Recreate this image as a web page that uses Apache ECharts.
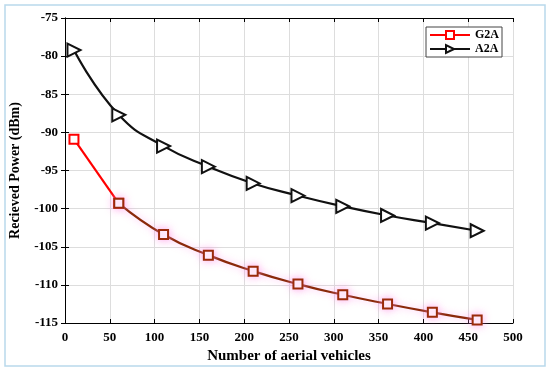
<!DOCTYPE html>
<html><head><meta charset="utf-8">
<script src="https://cdn.jsdelivr.net/npm/echarts@6/dist/echarts.min.js"></script>
<style>html,body{margin:0;padding:0;background:#fff}#c{width:550px;height:371px}</style>
</head><body><div id="c"></div>
<script>
const xValues = [10, 60, 110, 160, 210, 260, 310, 360, 410, 460];
const g2a = [-90.9, -99.3, -103.4, -106.1, -108.2, -109.9, -111.3, -112.5, -113.6, -114.6];
const a2a = [-79.2, -87.7, -91.8, -94.5, -96.7, -98.3, -99.7, -100.9, -101.9, -102.9];
const xTicks = [0, 50, 100, 150, 200, 250, 300, 350, 400, 450, 500];
const yTicks = [-115, -110, -105, -100, -95, -90, -85, -80, -75];

const font = 'Liberation Serif';
const chart = echarts.init(document.getElementById('c'));
const pair = (ys) => xValues.map((x, i) => [x, ys[i]]);
const g2aPts = pair(g2a);
const axisTxt = {fontFamily: font, fontWeight: 'bold', fontSize: 13, color: '#000'};
chart.setOption({
  animation: false,
  graphic: [{type: 'rect', shape: {x: 5, y: 5, width: 540, height: 361},
    style: {fill: 'none', stroke: '#b9d9ec', lineWidth: 1.5}, z: -1}],
  grid: {left: 63, right: 37, top: 18, bottom: 48, show: false},
  legend: {
    right: 48, top: 27, orient: 'vertical', itemGap: 2, itemWidth: 40, itemHeight: 10,
    backgroundColor: '#fff', borderColor: '#444', borderWidth: 1, padding: [2, 3],
    textStyle: {fontFamily: font, fontWeight: 'bold', fontSize: 12, color: '#000'},
    data: ['G2A', 'A2A']
  },
  xAxis: [{
    type: 'value', min: 0, max: 500, interval: 50,
    name: 'Number of aerial vehicles', nameLocation: 'middle', nameGap: 24,
    nameTextStyle: {fontFamily: font, fontWeight: 'bold', fontSize: 15, color: '#000'},
    axisLine: {lineStyle: {color: '#000', width: 1}},
    axisTick: {inside: true, length: 4, lineStyle: {color: '#000'}},
    axisLabel: Object.assign({margin: 8}, axisTxt),
    splitLine: {show: true, lineStyle: {color: '#ddd'}}
  }, {
    type: 'value', min: 0, max: 500, interval: 50, position: 'top',
    axisLine: {show: true, lineStyle: {color: '#000'}},
    axisTick: {inside: true, length: 4, lineStyle: {color: '#000'}},
    axisLabel: {show: false}, splitLine: {show: false}
  }],
  yAxis: [{
    type: 'value', min: -115, max: -75, interval: 5,
    name: 'Recieved Power (dBm)', nameLocation: 'middle', nameGap: 43,
    nameTextStyle: {fontFamily: font, fontWeight: 'bold', fontSize: 14, color: '#000'},
    axisLine: {show: true, lineStyle: {color: '#000'}},
    axisTick: {show: true, inside: true, length: 4, lineStyle: {color: '#000'}},
    axisLabel: Object.assign({margin: 7}, axisTxt),
    splitLine: {show: true, lineStyle: {color: '#ddd'}}
  }, {
    type: 'value', min: -115, max: -75, interval: 5, position: 'right',
    axisLine: {show: true, lineStyle: {color: '#000'}},
    axisTick: {show: true, inside: true, length: 4, lineStyle: {color: '#000'}},
    axisLabel: {show: false}, splitLine: {show: false}
  }],
  series: [{
    name: 'G2A', type: 'line', data: g2aPts.slice(0, 2),
    symbol: 'rect', symbolSize: 9, showAllSymbol: true,
    color: '#ff0000',
    lineStyle: {width: 2.2, color: '#ff0000'},
    itemStyle: {color: '#fff', borderColor: '#ff0000', borderWidth: 2},
    z: 3
  }, {
    name: 'G2A-tail', type: 'line', smooth: 0.5, data: g2aPts.slice(1),
    symbol: 'rect', symbolSize: 9, showAllSymbol: true,
    color: '#8a2a0a',
    lineStyle: {width: 2.2, color: '#8a2a0a', shadowColor: 'rgba(255,120,230,0.5)', shadowBlur: 7},
    itemStyle: {color: '#fff', borderColor: '#9a2a0a', borderWidth: 2,
      shadowColor: 'rgba(255,140,230,0.7)', shadowBlur: 9},
    z: 4
  }, {
    name: 'A2A', type: 'line', smooth: 0.5, data: pair(a2a),
    symbol: 'triangle', symbolRotate: -90, symbolSize: 13, showAllSymbol: true,
    color: '#111',
    lineStyle: {width: 2.2, color: '#111'},
    itemStyle: {color: '#fff', borderColor: '#111', borderWidth: 2},
    z: 2
  }]
});
</script></body></html>
